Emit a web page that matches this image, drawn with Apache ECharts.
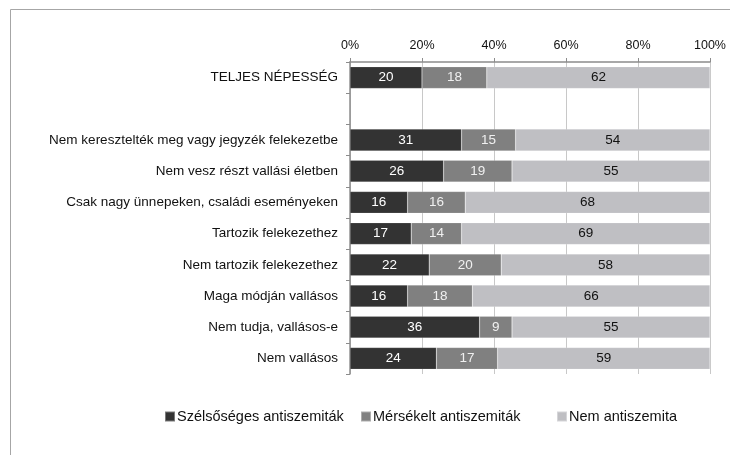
<!DOCTYPE html>
<html><head><meta charset="utf-8">
<script src="https://cdn.jsdelivr.net/npm/echarts@6/dist/echarts.min.js"></script>
<style>html,body{margin:0;padding:0;background:#fff}#c{width:730px;height:455px}</style>
</head><body><div id="c"></div>
<script>
const categories = ["TELJES NÉPESSÉG", "", "Nem keresztelték meg vagy jegyzék felekezetbe", "Nem vesz részt vallási életben", "Csak nagy ünnepeken, családi eseményeken", "Tartozik felekezethez", "Nem tartozik felekezethez", "Maga módján vallásos", "Nem tudja, vallásos-e", "Nem vallásos"];
const seriesNames = ["Szélsőséges antiszemiták", "Mérsékelt antiszemiták", "Nem antiszemita"];
const extreme = [20, null, 31, 26, 16, 17, 22, 16, 36, 24];
const moderate = [18, null, 15, 19, 16, 14, 20, 18, 9, 17];
const none = [62, null, 54, 55, 68, 69, 58, 66, 55, 59];
const tickValues = [0, 20, 40, 60, 80, 100];

const font = "'Liberation Sans', Arial, sans-serif";
const colors = ['#333333', '#808080', '#bfbfc3'];
const labelColors = ['#ffffff', '#f0f0f0', '#111111'];
const datas = [extreme, moderate, none];
const legendLefts = [164, 360, 556];

const chart = echarts.init(document.getElementById('c'));
chart.setOption({
  animation: false,
  textStyle: { fontFamily: font },
  graphic: [{ type: 'rect', shape: { x: 10.5, y: 9.5, width: 760, height: 500 }, style: { fill: 'none', stroke: '#a6a6a6', lineWidth: 1 }, silent: true }],
  legend: seriesNames.map((n, i) => ({
    top: 409, left: legendLefts[i], padding: 0,
    itemWidth: 10, itemHeight: 10,
    icon: 'rect',
    textStyle: { fontFamily: font, fontSize: 14.5, color: '#111', padding: [0, 0, 0, -3] },
    data: [n]
  })),
  grid: { left: 350, right: 20, top: 62, bottom: 81, containLabel: false },
  xAxis: {
    type: 'value', position: 'top', min: 0, max: 100, interval: 20,
    axisLabel: { formatter: v => tickValues.includes(v) ? v + '%' : '', fontSize: 12.5, color: '#111', fontFamily: font, margin: 10 },
    axisLine: { show: true, lineStyle: { color: '#8c8c8c', width: 1.5 } },
    axisTick: { show: true, inside: false, length: 4, lineStyle: { color: '#8c8c8c' } },
    splitLine: { show: true, lineStyle: { color: '#c8c8c8', width: 1 } }
  },
  yAxis: {
    type: 'category', inverse: true, data: categories,
    axisLine: { show: true, lineStyle: { color: '#8c8c8c', width: 1.5 } },
    axisTick: { show: true, length: 4, lineStyle: { color: '#8c8c8c' } },
    axisLabel: { fontSize: 13.5, color: '#111', fontFamily: font, margin: 12 }
  },
  series: datas.map((d, i) => ({
    name: seriesNames[i], type: 'bar', stack: 'all', data: d,
    barWidth: '70%',
    itemStyle: { color: colors[i], borderColor: 'rgba(255,255,255,0.35)', borderWidth: 0.5 },
    label: { show: true, position: 'inside', color: labelColors[i], fontSize: 13.5, fontFamily: font }
  }))
});
</script></body></html>
